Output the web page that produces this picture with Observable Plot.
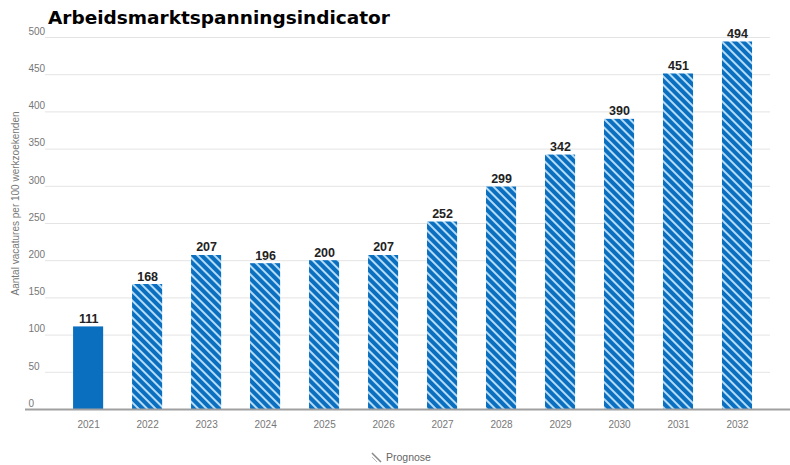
<!DOCTYPE html>
<html>
<head>
<meta charset="utf-8">
<script src="https://cdn.jsdelivr.net/npm/d3@7"></script>
<script src="https://cdn.jsdelivr.net/npm/@observablehq/plot@0.6"></script>
<style>
  body { margin: 0; background: #fff; }
  #wrap { position: relative; width: 790px; height: 465px; }
  #title { position: absolute; left: 48px; top: 7px; font-family: "DejaVu Sans", Verdana, sans-serif; font-weight: bold; font-size: 18.5px; color: #000; }
  #legend { position: absolute; left: 6px; width: 790px; top: 451px; text-align: center; font-family: "Liberation Sans", Arial, sans-serif; font-size: 10.5px; color: #666; }
  #legend svg { vertical-align: -2px; margin-right: 4px; }
</style>
</head>
<body>
<div id="wrap">
  <div id="chart"></div>
  <div id="title">Arbeidsmarktspanningsindicator</div>
  <div id="legend"><svg width="11" height="11"><line x1="1" y1="1" x2="10" y2="10" stroke="#888" stroke-width="1.5"/><line x1="1" y1="5" x2="6" y2="10" stroke="#bbb" stroke-width="1"/></svg>Prognose</div>
</div>
<script>
const years = ["2021","2022","2023","2024","2025","2026","2027","2028","2029","2030","2031","2032"];
const values = [111, 168, 207, 196, 200, 207, 252, 299, 342, 390, 451, 494];
const kinds = ["Realisatie","Prognose","Prognose","Prognose","Prognose","Prognose","Prognose","Prognose","Prognose","Prognose","Prognose","Prognose"];
const yTicks = [0, 50, 100, 150, 200, 250, 300, 350, 400, 450, 500];

const data = years.map((y, i) => ({year: y, value: values[i], kind: kinds[i]}));
const blue = "#0b6fc0";

const chart = Plot.plot({
  width: 790,
  height: 440,
  marginTop: 37,
  marginBottom: 31,
  marginLeft: 45,
  marginRight: 20,
  style: {fontFamily: "'Liberation Sans', Arial, sans-serif", fontSize: "10px", color: "#666", background: "#fff"},
  x: {domain: years, paddingInner: 0.49, paddingOuter: 0.39, align: 0.61, round: false, label: null},
  y: {domain: [0, 500], label: null},
  marks: [
    Plot.gridY(yTicks, {stroke: "#e4e4e4", strokeOpacity: 1}),
    Plot.axisY(yTicks, {tickSize: 0, tickPadding: 17, textAnchor: "start", dy: -6, fill: "#777", label: null}),
    Plot.text(["Aantal vacatures per 100 werkzoekenden"], {frameAnchor: "left", textAnchor: "middle", dx: -30, dy: -20, rotate: -90, fontSize: 10, fill: "#777"}),
    Plot.barY(data.filter(d => d.kind !== "Prognose"), {x: "year", y: "value", fill: blue}),
    Plot.barY(data.filter(d => d.kind === "Prognose"), {x: "year", y: "value", fill: "url(#hatch)"}),
    Plot.ruleY([0], {stroke: "#a0a0a0", strokeWidth: 2, insetLeft: -20, insetRight: -20}),
    Plot.axisX({tickSize: 0, tickPadding: 11, fill: "#777", label: null}),
    Plot.text(data, {x: "year", y: "value", text: d => String(d.value), dy: -8, fontWeight: "bold", fontSize: 12.5, fill: "#222"})
  ]
});

// add hatch pattern definition
const ns = "http://www.w3.org/2000/svg";
const defs = document.createElementNS(ns, "defs");
defs.innerHTML = `<pattern id="hatch" patternUnits="userSpaceOnUse" width="6" height="6" patternTransform="rotate(-45)">
  <rect width="6" height="6" fill="${blue}"/>
  <rect x="0" y="0" width="2" height="6" fill="#b5dcf8"/>
</pattern>`;
chart.insertBefore(defs, chart.firstChild);
document.getElementById("chart").appendChild(chart);
</script>
</body>
</html>
